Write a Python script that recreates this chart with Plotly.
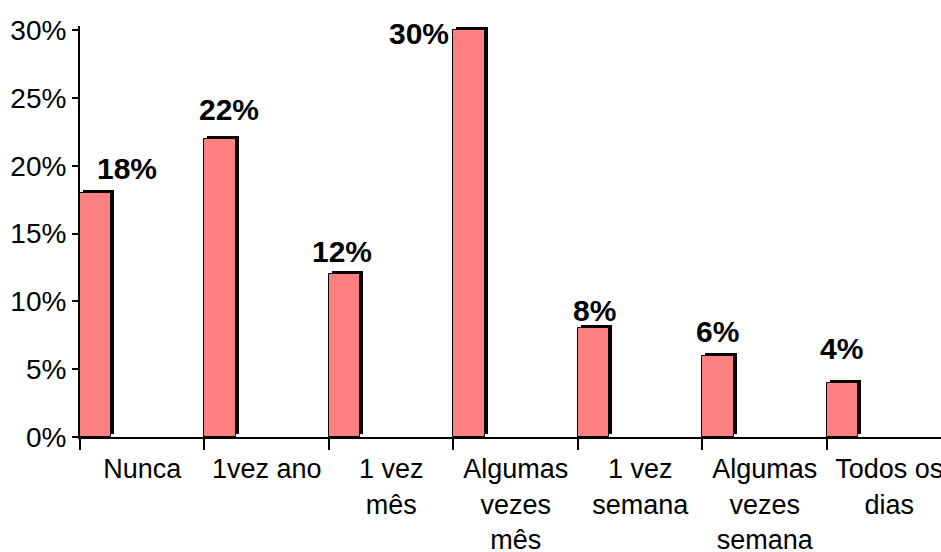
import plotly.graph_objects as go

# data
categories = ["Nunca", "1vez ano", "1 vez<br>mês", "Algumas<br>vezes<br>mês",
              "1 vez<br>semana", "Algumas<br>vezes<br>semana", "Todos os<br>dias"]
shares = [0.18, 0.22, 0.12, 0.30, 0.08, 0.06, 0.04]
share_labels = ["18%", "22%", "12%", "30%", "8%", "6%", "4%"]
y_ticks = [0, 0.05, 0.10, 0.15, 0.20, 0.25, 0.30]
y_tick_labels = ["0%", "5%", "10%", "15%", "20%", "25%", "30%"]

FONT = "Liberation Sans, Arial, sans-serif"
PINK = "#FF8080"

x_range = [-0.5, 6.416]
y_range = [0, 0.303]   # a little headroom so the 30% bar's border isn't clipped
# shadow is drawn on hidden axes whose ranges are nudged ~3px right / up
dx = 3 / 124.5
dy = 0.30 * 3 / 407

fig = go.Figure()

# black drop shadow (base axes, below)
fig.add_trace(go.Bar(
    x=categories, y=shares, xaxis="x", yaxis="y",
    offset=-0.5, width=0.25,
    marker=dict(color="black", line=dict(width=0)),
    hoverinfo="skip", showlegend=False,
))

# pink bars (overlay axes, drawn on top)
fig.add_trace(go.Bar(
    x=categories, y=shares, xaxis="x2", yaxis="y2",
    offset=-0.5, width=0.25,
    marker=dict(color=PINK, line=dict(color="black", width=1)),
    showlegend=False,
))

# value labels, nudged like in the original
label_xshift = [-15, -38, -49, -97, -46, -47, -48]
label_yshift = [24, 29, 23, -3, 18, 24, 34]
for cat, val, txt, xs, ys in zip(categories, shares, share_labels, label_xshift, label_yshift):
    fig.add_annotation(
        x=cat, y=val, xref="x2", yref="y2", text=f"<b>{txt}</b>",
        showarrow=False, xanchor="center", yanchor="middle",
        xshift=xs, yshift=ys,
        font=dict(family=FONT, size=30, color="black"),
    )

fig.update_layout(
    width=941, height=552,
    margin=dict(l=80, r=0, t=26, b=115),
    paper_bgcolor="white", plot_bgcolor="white",
    bargap=0,
    font=dict(family=FONT, size=27, color="black"),
    xaxis=dict(visible=False, type="category", categoryarray=categories,
               range=[x_range[0] - dx, x_range[1] - dx], automargin=False),
    yaxis=dict(visible=False, range=[y_range[0] - dy, y_range[1] - dy],
               automargin=False),
    xaxis2=dict(
        overlaying="x", anchor="y2", side="bottom", type="category",
        categoryarray=categories, range=x_range, automargin=False,
        tickson="boundaries", ticks="outside", ticklen=11, tickwidth=1.5,
        tickcolor="black", showline=True, linecolor="black", linewidth=2,
        ticklabelstandoff=7,
        showgrid=False, tickfont=dict(family=FONT, size=27, color="black"),
    ),
    yaxis2=dict(
        overlaying="y", anchor="x2", side="left", range=y_range,
        automargin=False,
        tickvals=y_ticks, ticktext=y_tick_labels,
        ticks="outside", ticklen=6, tickwidth=1.5, tickcolor="black",
        showline=True, linecolor="black", linewidth=2, showgrid=False,
        zeroline=False, tickfont=dict(family=FONT, size=28, color="black"),
    ),
)

# drop the default body margin so the figure fills the window exactly
fig.write_html("out.html",
               config={"displayModeBar": False},
               post_script="document.body.style.margin='0';document.body.style.overflow='hidden';")
